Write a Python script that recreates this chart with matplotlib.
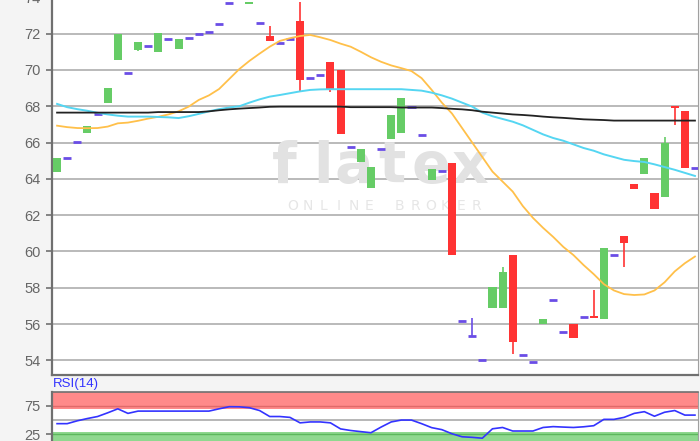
import matplotlib.pyplot as plt

# candle data, one entry per trading day
opens = [64.4, 65.13, 66.05, 66.55, 67.56, 68.17, 70.55, 69.85, 71.1, 71.34,
         70.98, 71.71, 71.17, 71.78, 72.0, 72.08, 72.52, 73.7, 74.3, 73.62,
         72.57, 71.87, 71.47, 71.71, 72.72, 69.58, 69.71, 70.46, 70.0, 65.77,
         64.95, 63.48, 65.65, 66.18, 66.55, 67.98, 66.42, 63.94, 64.44, 64.9,
         56.17, 55.34, 54.02, 56.9, 56.9, 59.81, 54.29, 53.92, 56.0, 57.3,
         55.55, 56.0, 56.4, 56.46, 56.26, 59.82, 60.87, 63.72, 64.27, 63.24,
         62.99, 68.0, 67.74, 64.62]
highs = [65.13, 65.13, 66.05, 66.93, 67.56, 69.0, 71.97, 69.85, 71.56, 71.34,
         72.02, 71.71, 71.71, 71.78, 72.0, 72.08, 72.52, 73.7, 74.3, 73.72,
         72.57, 72.44, 71.47, 71.71, 73.76, 69.58, 69.71, 70.46, 70.0, 65.77,
         65.65, 64.67, 65.65, 67.52, 68.44, 67.98, 66.42, 64.53, 64.44, 64.9,
         56.17, 56.35, 54.02, 58.06, 59.13, 59.81, 54.29, 53.92, 56.29, 57.3,
         55.55, 56.0, 56.4, 57.86, 60.21, 59.82, 60.87, 63.72, 65.17, 63.24,
         66.33, 68.0, 67.74, 64.62]
lows = [64.4, 65.13, 66.05, 66.55, 67.56, 68.17, 70.55, 69.85, 71.05, 71.34,
        70.98, 71.71, 71.17, 71.78, 72.0, 72.08, 72.52, 73.7, 74.3, 73.62,
        72.57, 71.61, 71.47, 71.71, 68.84, 69.58, 69.71, 68.8, 66.46, 65.77,
        64.95, 63.48, 65.65, 66.18, 66.55, 67.98, 66.42, 63.94, 64.44, 59.8,
        56.17, 55.34, 54.02, 56.9, 56.9, 54.33, 54.29, 53.92, 56.0, 57.3,
        55.55, 55.23, 56.4, 56.35, 56.26, 59.82, 59.16, 63.44, 64.27, 62.33,
        62.99, 66.97, 64.62, 64.62]
closes = [65.13, 65.13, 66.05, 66.93, 67.56, 69.0, 71.97, 69.85, 71.56, 71.34,
          72.02, 71.71, 71.71, 71.78, 72.0, 72.08, 72.52, 73.7, 74.3, 73.72,
          72.57, 71.61, 71.47, 71.71, 69.45, 69.58, 69.71, 68.94, 66.46, 65.77,
          65.65, 64.67, 65.65, 67.52, 68.44, 67.98, 66.42, 64.53, 64.44, 59.8,
          56.17, 55.34, 54.02, 58.06, 58.87, 55.03, 54.29, 53.92, 56.29, 57.3,
          55.55, 55.23, 56.4, 56.35, 60.21, 59.82, 60.47, 63.44, 65.17, 62.33,
          66.0, 67.93, 64.62, 64.62]

# moving averages
ma_fast = [66.93, 66.85, 66.8, 66.79, 66.8, 66.88, 67.06, 67.1, 67.2, 67.32,
           67.42, 67.55, 67.72, 67.98, 68.35, 68.6, 68.95, 69.5, 70.05, 70.5,
           70.9, 71.28, 71.6, 71.75, 71.87, 71.93, 71.8, 71.65, 71.45, 71.28,
           71.0, 70.7, 70.45, 70.25, 70.1, 69.94, 69.55, 68.9, 68.2, 67.6,
           66.8, 66.0, 65.2, 64.4, 63.85, 63.3, 62.5, 61.85, 61.3, 60.8,
           60.25, 59.8, 59.25, 58.75, 58.2, 57.85, 57.65, 57.6, 57.63, 57.85,
           58.3, 58.9, 59.35, 59.72]
ma_mid = [68.13, 67.95, 67.84, 67.75, 67.64, 67.55, 67.48, 67.43, 67.43, 67.43,
          67.41, 67.39, 67.35, 67.45, 67.58, 67.72, 67.84, 67.93, 68.0, 68.2,
          68.38, 68.53, 68.62, 68.72, 68.82, 68.9, 68.93, 68.94, 68.94, 68.94,
          68.94, 68.94, 68.94, 68.94, 68.94, 68.9, 68.86, 68.75, 68.6, 68.42,
          68.2, 67.98, 67.65, 67.45, 67.3, 67.15, 66.95, 66.7, 66.45, 66.25,
          66.1, 65.9, 65.7, 65.55, 65.35, 65.2, 65.05, 64.98, 64.93, 64.8,
          64.65, 64.5, 64.33, 64.16]
ma_slow = [67.65, 67.65, 67.65, 67.65, 67.65, 67.65, 67.65, 67.65, 67.65, 67.65,
           67.68, 67.68, 67.68, 67.68, 67.68, 67.72, 67.78, 67.83, 67.87, 67.9,
           67.93, 67.97, 67.98, 67.98, 67.98, 67.98, 67.98, 67.98, 67.98, 67.95,
           67.95, 67.95, 67.95, 67.95, 67.93, 67.93, 67.93, 67.93, 67.9, 67.86,
           67.83, 67.78, 67.7, 67.65, 67.6, 67.55, 67.52, 67.48, 67.43, 67.39,
           67.36, 67.32, 67.28, 67.26, 67.24, 67.21, 67.21, 67.21, 67.21, 67.21,
           67.21, 67.21, 67.21, 67.21]

rsi = [44, 44, 49, 53, 56.5, 63, 70, 62, 66, 66,
       66, 66, 66, 66, 66, 66, 70, 73.7, 73.5, 71.9,
       67, 56.5, 56.5, 55, 45.4, 47, 47, 45.4, 34.8, 32,
       30, 28.1, 38, 47, 50.3, 50.3, 44, 37, 33.5, 26.3,
       21, 20, 18.5, 35, 37.3, 31.1, 31.1, 31.1, 37.3, 38.8,
       38, 37.3, 38.5, 40.4, 51.5, 51.5, 55, 62, 65, 57,
       64, 67, 59, 59]

price_ticks = [54, 56, 58, 60, 62, 64, 66, 68, 70, 72, 74]
rsi_ticks = [25, 75]

W, H = 700, 441
fig = plt.figure(figsize=(7, 4.41), dpi=100, facecolor="#f4f4f4")
ax = fig.add_axes([52 / W, 1 - 374.5 / H, 646 / W, 377.5 / H])
ax2 = fig.add_axes([52 / W, 0, 646 / W, 49.3 / H])

green, red, flat = "#66cc66", "#ff3333", "#6a4de6"
x = list(range(len(opens)))

for i in x:
    o, h, l, c = opens[i], highs[i], lows[i], closes[i]
    if c > o:
        col = green
    elif c < o:
        col = red
    else:
        col = flat
    if h > max(o, c) or l < min(o, c):
        ax.vlines(i, l, h, color=col, lw=1.2, zorder=3)
    if c == o:
        ax.hlines(c, i - 0.4, i + 0.4, color=col, lw=2, zorder=3)
    else:
        ax.bar(i, abs(c - o), bottom=min(o, c), width=0.8, color=col, lw=0, zorder=3)

ax.plot(x, ma_fast, color="#ffc04a", lw=1.3, zorder=4)
ax.plot(x, ma_mid, color="#55d6f2", lw=1.4, zorder=4)
ax.plot(x, ma_slow, color="#222222", lw=1.3, zorder=4)

ax.set_xlim(-0.5, 63.3)
ax.set_ylim(53.22, 74.02)
ax.set_yticks(price_ticks)
ax.set_xticks([])
ax.grid(axis="y", color="#b4b4b4", lw=1.3)
ax.set_axisbelow(True)
ax.tick_params(axis="y", colors="#707070", labelcolor="#666666", labelsize=10.5,
               length=4, width=1.2, pad=4)
for lab in ax.get_yticklabels():
    lab.set_fontfamily("Liberation Sans")
for s in ["left", "bottom"]:
    ax.spines[s].set_color("#707070")
    ax.spines[s].set_linewidth(1.6)
ax.spines["right"].set_color("#a0a0a0")
ax.spines["top"].set_visible(False)

# watermark, behind the candles
for ch, px in zip("flatex", [284, 323, 354, 392, 431, 470]):
    ax.text(px / W, 1 - 183 / H, ch, transform=fig.transFigure, fontsize=41,
            fontweight="bold", color="#e2e2e2", ha="center", va="baseline", zorder=1)
for k, ch in enumerate("ONLINE BROKER"):
    ax.text((293 + 15.25 * k) / W, 1 - 206 / H, ch, transform=fig.transFigure,
            fontsize=10, color="#e6e6e6", ha="center", va="center", zorder=1)

# RSI panel
ax2.axhspan(70, 100, color="#ff8a8a", lw=0)
ax2.axhspan(0, 30, color="#8fd88f", lw=0)
ax2.axhline(75, color="#e06a6a", lw=1)
ax2.axhline(25, color="#5cb85c", lw=1)
ax2.axhline(50, color="#aaaaaa", lw=1.2)
ax2.plot(x, rsi, color="#3333ff", lw=1.2)
ax2.set_xlim(-0.5, 63.3)
ax2.set_ylim(13.6, 100)
ax2.set_yticks(rsi_ticks)
ax2.set_xticks([])
ax2.tick_params(axis="y", colors="#707070", labelcolor="#666666", labelsize=10.5,
                length=4, width=1.2, pad=4)
for lab in ax2.get_yticklabels():
    lab.set_fontfamily("Liberation Sans")
ax2.spines["left"].set_color("#707070")
ax2.spines["left"].set_linewidth(1.6)
ax2.spines["top"].set_color("#707070")
ax2.spines["top"].set_linewidth(1.2)
ax2.spines["right"].set_color("#a0a0a0")
ax2.spines["bottom"].set_visible(False)
fig.text(53 / W, 1 - 390.5 / H, "RSI(14)", color="#3333ff", fontsize=9.5,
         fontfamily="Liberation Sans", ha="left", va="bottom")

fig.savefig("out.png", dpi=100, facecolor=fig.get_facecolor())
